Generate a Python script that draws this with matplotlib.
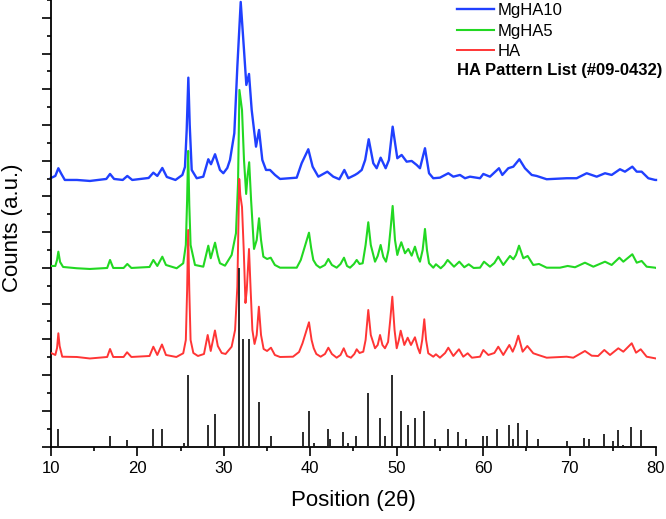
import matplotlib
matplotlib.use("Agg")
import matplotlib.pyplot as plt
from matplotlib.ticker import MultipleLocator, NullFormatter

plt.rcParams['font.family'] = ['Liberation Sans', 'DejaVu Sans']

# ---------------- data ----------------
series_labels = ["MgHA10", "MgHA5", "HA"]
pattern_label = "HA Pattern List (#09-0432)"

# HA (red)
ha_x = [10.0, 10.5, 10.7, 10.85, 11.0, 11.3, 13.0, 14.5, 16.5, 16.83, 17.2, 18.4, 18.8, 19.3,
        21.4, 21.84, 22.3, 22.84, 23.3, 24.5, 25.3, 25.6, 25.75, 25.87, 26.0, 26.15, 26.47,
        27.0, 27.7, 28.13, 28.48, 28.97, 29.3, 29.75, 30.2, 30.9, 31.3, 31.56, 31.68, 31.78,
        31.9, 32.1, 32.3, 32.5, 32.65, 32.91, 33.1, 33.3, 33.55, 33.8, 34.05, 34.3, 34.6, 35.0,
        35.45, 35.9, 36.5, 38.0, 38.7, 39.1, 39.4, 39.85, 40.15, 40.4, 40.7, 41.2, 41.7, 42.09,
        42.5, 43.05, 43.5, 43.87, 44.25, 44.7, 45.1, 45.37, 45.7, 46.13, 46.4, 46.71, 47.0,
        47.49, 47.8, 48.07, 48.35, 48.64, 49.0, 49.25, 49.49, 49.75, 50.0, 50.25, 50.46, 50.88,
        51.27, 51.65, 52.11, 52.45, 52.69, 52.95, 53.19, 53.4, 53.65, 54.23, 54.54, 55.0, 55.6,
        55.97, 56.55, 57.2, 57.7, 58.21, 58.7, 59.64, 60.02, 60.6, 61.3, 61.75, 62.33, 63.03,
        63.42, 63.75, 64.07, 64.57, 65.11, 65.8, 66.38, 67.35, 69.66, 70.43, 71.78, 72.56, 73.3,
        74.02, 74.68, 75.64, 76.22, 77.19, 77.69, 78.23, 78.92, 79.9, 80.0]
ha_y = [2618, 2562, 2758, 3170, 2814, 2514, 2506, 2464, 2506, 2730, 2506, 2506, 2638, 2506,
        2534, 2794, 2562, 2856, 2562, 2506, 2610, 2982, 4382, 6062, 4382, 2982, 2618,
        2534, 2590, 3122, 2674, 3248, 2814, 2618, 2590, 2794, 3262, 4474, 6062, 7490,
        7042, 6706, 5502, 4018, 4382, 5530, 4382, 3262, 2870, 3122, 3914, 3122, 2730, 2674,
        2766, 2562, 2506, 2514, 2646, 2890, 3122, 3478, 2982, 2750, 2590, 2514, 2590, 2766,
        2590, 2486, 2562, 2750, 2534, 2486, 2590, 2722, 2618, 2654, 2982, 3822, 3122,
        2750, 2842, 3122, 2842, 2750, 2926, 3542, 4194, 3262, 2750, 2982, 3242, 2842,
        3046, 2842, 3058, 2758, 2610, 2982, 3562, 2982, 2610, 2514, 2582, 2486, 2618,
        2766, 2534, 2722, 2514, 2610, 2486, 2514, 2702, 2562, 2618, 2794, 2562, 2842,
        2654, 2842, 3102, 2654, 2814, 2610, 2562, 2486, 2514, 2486, 2674, 2542, 2534,
        2702, 2562, 2750, 2654, 2890, 2626, 2722, 2514, 2470, 2464]

# MgHA5 (green)
mg5_x = [10.0, 10.5, 10.7, 10.85, 11.05, 11.4, 13.0, 14.5, 16.5, 16.83, 17.2, 18.4, 18.83, 19.3,
         21.4, 21.84, 22.3, 22.88, 23.3, 24.54, 25.3, 25.6, 25.75, 25.87, 26.0, 26.15, 26.66,
         27.62, 28.2, 28.48, 28.98, 29.3, 29.55, 30.13, 30.9, 31.4, 31.64, 31.8, 31.95, 32.1,
         32.33, 32.58, 32.75, 32.93, 33.15, 33.49, 33.8, 34.07, 34.3, 34.57, 35.0, 35.42, 35.9,
         36.5, 38.43, 38.9, 39.19, 39.5, 39.85, 40.1, 40.35, 40.7, 41.12, 41.7, 42.09, 42.5,
         43.05, 43.5, 43.9, 44.25, 44.6, 45.05, 45.37, 45.7, 46.06, 46.4, 46.71, 47.0, 47.49,
         47.8, 48.14, 48.45, 48.76, 49.05, 49.3, 49.53, 49.8, 50.07, 50.3, 50.53, 50.96, 51.34,
         51.73, 52.11, 52.45, 52.69, 53.0, 53.27, 53.5, 53.74, 54.23, 54.54, 55.09, 55.5, 55.89,
         56.63, 57.24, 57.82, 58.33, 58.9, 59.64, 60.1, 60.79, 61.3, 61.75, 62.33, 63.11, 63.49,
         63.8, 64.15, 64.65, 65.15, 65.8, 66.46, 67.35, 68.89, 69.78, 70.63, 71.78, 72.75, 74.1,
         74.87, 75.76, 76.22, 77.26, 77.77, 78.34, 78.92, 79.9, 80.0]
mg5_y = [5054, 5054, 5222, 5454, 5166, 5026, 4990, 4970, 4998, 5222, 4998, 4998, 5110, 4998,
         5026, 5222, 5054, 5314, 5082, 4990, 5130, 5642, 6902, 8274, 6762, 5642, 5082,
         5034, 5622, 5270, 5706, 5334, 5130, 5062, 5362, 5970, 7370, 9982, 9702, 9422,
         8022, 7070, 7602, 7958, 6902, 5530, 5782, 6390, 5782, 5314, 5250, 5286, 5082,
         5006, 5006, 5222, 5454, 5698, 5986, 5558, 5222, 5082, 5006, 5082, 5250, 5082,
         5006, 5110, 5286, 5054, 5006, 5110, 5222, 5110, 5130, 5642, 6278, 5642, 5174,
         5334, 5642, 5306, 5174, 5502, 6118, 6734, 5782, 5362, 5558, 5718, 5410, 5530,
         5342, 5594, 5306, 5174, 5502, 6090, 5502, 5130, 5006, 5102, 4990, 5082, 5222,
         5034, 5174, 5018, 5102, 4998, 5006, 5174, 5034, 5138, 5314, 5082, 5334, 5242,
         5362, 5622, 5270, 5334, 5082, 5110, 5006, 5006, 5054, 5018, 5146, 5034, 5174,
         5082, 5286, 5174, 5382, 5146, 5194, 5034, 5006, 4998]

# MgHA10 (blue)
mg10_x = [10.0, 10.5, 10.85, 11.2, 11.6, 13.0, 14.5, 16.4, 16.83, 17.3, 18.3, 18.83, 19.4, 21.3,
          21.84, 22.3, 22.88, 23.4, 24.4, 25.2, 25.5, 25.7, 25.89, 26.05, 26.28, 26.86, 27.62,
          28.2, 28.51, 28.98, 29.55, 29.94, 30.4, 30.71, 31.21, 31.56, 31.95, 32.33, 32.6, 32.91,
          33.22, 33.72, 34.07, 34.45, 34.88, 35.34, 35.92, 36.5, 38.43, 39.0, 39.77, 40.27, 40.93,
          41.97, 42.66, 43.36, 43.94, 44.4, 45.17, 45.49, 45.95, 46.35, 46.76, 47.29, 47.68, 48.14,
          48.72, 49.1, 49.53, 50.07, 50.57, 51.15, 51.73, 52.31, 52.69, 53.27, 53.74, 54.23, 55.0,
          55.97, 56.55, 57.32, 57.9, 58.48, 59.64, 60.02, 60.79, 61.83, 62.22, 62.91, 63.49, 64.19,
          64.84, 65.62, 66.19, 67.35, 69.66, 70.82, 71.98, 73.14, 74.1, 74.87, 75.83, 76.41, 77.26,
          77.77, 78.34, 79.11, 79.9, 80.0]
mg10_y = [7518, 7574, 7790, 7630, 7462, 7462, 7434, 7490, 7630, 7490, 7462, 7574, 7462, 7518,
          7666, 7574, 7798, 7546, 7462, 7602, 7826, 8862, 10326, 9002, 7742, 7510, 7554,
          8042, 7902, 8182, 7742, 7650, 7798, 8022, 8770, 10634, 12446, 11102, 10122, 10430,
          9422, 8394, 8862, 8022, 7742, 7742, 7602, 7490, 7526, 7930, 8322, 7834, 7554,
          7694, 7554, 7482, 7742, 7510, 7602, 7650, 7742, 8022, 8602, 7930, 7790, 8086,
          7790, 8022, 8954, 8070, 8162, 7974, 7994, 7882, 7790, 8350, 7650, 7510, 7526,
          7650, 7554, 7602, 7510, 7554, 7510, 7630, 7554, 7790, 7602, 7790, 7834, 8042,
          7790, 7602, 7574, 7482, 7510, 7510, 7650, 7554, 7650, 7602, 7762, 7694, 7834,
          7694, 7694, 7510, 7462, 7462]

# HA reference pattern (JCPDS 09-0432): 2-theta and relative intensity (%)
ref_pos = [10.82, 16.84, 18.78, 21.82, 22.90, 25.35, 25.88, 28.13, 28.97, 31.77, 32.20, 32.90,
           34.05, 35.48, 39.20, 39.82, 40.45, 42.03, 42.32, 43.80, 44.37, 45.30, 46.71, 48.10,
           48.62, 49.47, 50.49, 51.28, 52.10, 53.14, 54.44, 55.88, 57.13, 58.07, 60.02, 60.46,
           61.66, 63.01, 63.46, 64.08, 65.03, 66.39, 69.70, 71.65, 72.29, 73.98, 75.03, 75.59,
           76.19, 77.12, 78.23]
ref_int = [10, 5.6, 3.7, 9.7, 9.7, 1.7, 40, 12, 18, 100, 60, 60,
           25, 6, 8, 20, 2, 10, 4, 8, 2, 6, 30, 16,
           6, 40, 20, 12, 16, 20, 4, 10, 8, 4, 6, 6,
           10, 12, 4, 13, 9, 4, 3, 5, 4, 7, 3, 9,
           1, 11, 9]
counts_per_percent = 50.0

# ---------------- figure ----------------
W, H = 666, 519
fig = plt.figure(figsize=(W / 100, H / 100), dpi=100)
ax = fig.add_axes([51 / W, 1 - 446.5 / H, 605 / W, 446.5 / H])

ax.plot(mg10_x, mg10_y, color='#2040ff', lw=1.7, zorder=2, label=series_labels[0], clip_on=False)
ax.plot(mg5_x, mg5_y, color='#22d822', lw=1.5, zorder=3, label=series_labels[1])
ax.plot(ha_x, ha_y, color='#ff3535', lw=1.4, zorder=4, label=series_labels[2])
ax.vlines(ref_pos, 0, [v * counts_per_percent for v in ref_int], colors='#1a1a1a',
          lw=1.3, zorder=5)

ax.set_xlim(10, 80)
ax.set_ylim(0, 12500)
ax.spines['top'].set_visible(False)
ax.spines['right'].set_visible(False)
for s in ('left', 'bottom'):
    ax.spines[s].set_linewidth(1.3)

ax.xaxis.set_major_locator(MultipleLocator(10))
ax.xaxis.set_minor_locator(MultipleLocator(5))
ax.yaxis.set_major_locator(MultipleLocator(1000))
ax.yaxis.set_minor_locator(MultipleLocator(500))
ax.yaxis.set_major_formatter(NullFormatter())
ax.tick_params(axis='both', which='major', direction='out', length=6.5, width=1.2,
               labelsize=12, pad=4)
ax.tick_params(axis='both', which='minor', direction='out', length=3.2, width=1.2)

ax.set_xlabel("Position (2θ)", fontsize=16)
ax.set_ylabel("Counts (a.u.)", fontsize=16)
ax.xaxis.set_label_coords(0.5, -0.097)
ax.yaxis.set_label_coords(-0.046, 0.49)

leg = ax.legend(loc='upper left', bbox_to_anchor=(457 / W, 1 - 3 / H), bbox_transform=fig.transFigure,
                frameon=False, fontsize=12, handlelength=2.2, handletextpad=0.25,
                labelspacing=0.34, borderpad=0, borderaxespad=0)
fig.text(457 / W, 1 - 70 / H, pattern_label, fontsize=12, fontweight='bold',
         ha='left', va='center')

fig.savefig("out.png", dpi=100)
